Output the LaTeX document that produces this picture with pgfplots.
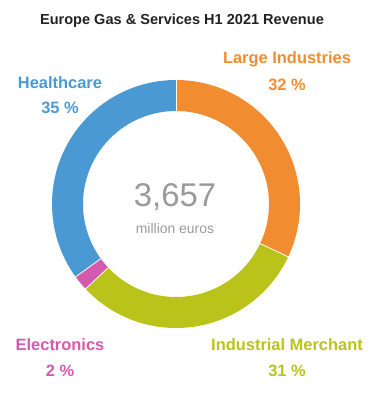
\documentclass[border=0pt]{standalone}
\usepackage{pgfplots}
\pgfplotsset{compat=1.18}
\usepackage{fontspec}
\setmainfont{Liberation Sans}
\definecolor{cLarge}{HTML}{F28C30}
\definecolor{cMerch}{HTML}{B9C31A}
\definecolor{cElec}{HTML}{D45AAE}
\definecolor{cHealth}{HTML}{4A99D3}
\definecolor{cGray}{HTML}{9A9A9A}
\definecolor{cTitle}{HTML}{222222}
\begin{document}
\begin{tikzpicture}
\begin{axis}[
  scale only axis, width=378bp, height=396bp,
  xmin=0, xmax=378, ymin=0, ymax=396, y dir=reverse,
  hide axis, clip=false,
]
\path (rel axis cs:0,0) rectangle (rel axis cs:1,1);
% slices: percent shares, clockwise from top
% Large Industries 32, Industrial Merchant 31, Electronics 2, Healthcare 35
\addplot[cLarge, line width=31bp, domain=0:32, samples=80, variable=\t]
  ({176+108.5*sin(3.6*\t)},{204-108.5*cos(3.6*\t)});
\addplot[cMerch, line width=31bp, domain=32:63, samples=80, variable=\t]
  ({176+108.5*sin(3.6*\t)},{204-108.5*cos(3.6*\t)});
\addplot[cElec, line width=31bp, domain=63:65, samples=10, variable=\t]
  ({176+108.5*sin(3.6*\t)},{204-108.5*cos(3.6*\t)});
\addplot[cHealth, line width=31bp, domain=65:100, samples=80, variable=\t]
  ({176+108.5*sin(3.6*\t)},{204-108.5*cos(3.6*\t)});
% thin separators
\foreach \b in {0,32,63,65}{
  \addplot[white, line width=0.8bp, domain=92.5:124.5, samples=2, variable=\r]
    ({176+\r*sin(3.6*\b)},{204-\r*cos(3.6*\b)});
}
\node[font=\fontsize{33}{33}\selectfont, text=cGray] at (axis cs:175,197) {3,657};
\node[font=\fontsize{14}{14}\selectfont, text=cGray] at (axis cs:175,229) {million euros};
\node[font=\fontsize{14.6}{14.6}\selectfont\bfseries, text=cTitle] at (axis cs:182,21) {Europe Gas \& Services H1 2021 Revenue};
\node[font=\fontsize{16.5}{16.5}\selectfont\bfseries, text=cLarge] at (axis cs:287,59) {Large Industries};
\node[font=\fontsize{16.5}{16.5}\selectfont\bfseries, text=cLarge] at (axis cs:287,85) {32 \%};
\node[font=\fontsize{16.5}{16.5}\selectfont\bfseries, text=cHealth] at (axis cs:60,83) {Healthcare};
\node[font=\fontsize{16.5}{16.5}\selectfont\bfseries, text=cHealth] at (axis cs:60,108) {35 \%};
\node[font=\fontsize{16.5}{16.5}\selectfont\bfseries, text=cElec] at (axis cs:60,345) {Electronics};
\node[font=\fontsize{16.5}{16.5}\selectfont\bfseries, text=cElec] at (axis cs:60,371) {2 \%};
\node[font=\fontsize{16.5}{16.5}\selectfont\bfseries, text=cMerch] at (axis cs:287,345) {Industrial Merchant};
\node[font=\fontsize{16.5}{16.5}\selectfont\bfseries, text=cMerch] at (axis cs:287,371) {31 \%};
\end{axis}
\end{tikzpicture}
\end{document}
